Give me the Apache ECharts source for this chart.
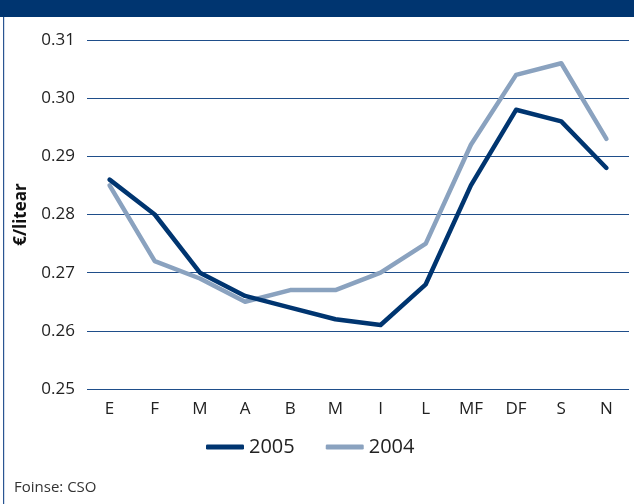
<!DOCTYPE html>
<html><head><meta charset="utf-8">
<script src="https://cdn.jsdelivr.net/npm/echarts@6/dist/echarts.min.js"></script>
<style>html,body{margin:0;padding:0;background:#fff}#c{width:634px;height:504px}</style>
</head><body><div id="c"></div>
<script>
const categories = ['E','F','M','A','B','M','I','L','MF','DF','S','N'];
const series2005 = [0.286,0.280,0.270,0.266,0.264,0.262,0.261,0.268,0.285,0.298,0.296,0.288];
const series2004 = [0.285,0.272,0.269,0.265,0.267,0.267,0.270,0.275,0.292,0.304,0.306,0.293];
const yTicks = [0.25,0.26,0.27,0.28,0.29,0.30,0.31];

const chart = echarts.init(document.getElementById('c'), null, {renderer:'canvas'});
const font = 'Open Sans';
chart.setOption({
  animation:false,
  textStyle:{fontFamily:font},
  graphic:[
    {type:'rect', shape:{x:0,y:0,width:634,height:17}, style:{fill:'#003570'}},
    {type:'rect', shape:{x:3,y:17,width:1.2,height:487}, style:{fill:'#2a5592'}},
    {type:'text', left:14, top:480, style:{text:'Foinse: CSO', font:'15px "Open Sans"', fill:'#333'}}
  ],
  grid:{left:87, right:5, top:40, bottom:115},
  legend:{
    data:['2005','2004'], top:432, left:201, itemWidth:38, itemHeight:5, itemGap:31,
    icon:'roundRect',
    textStyle:{fontSize:20, color:'#222', fontFamily:font}
  },
  xAxis:{
    type:'category', data:categories, boundaryGap:true,
    axisLine:{show:false}, axisTick:{show:false},
    axisLabel:{fontSize:17, color:'#222', margin:12, fontFamily:font}
  },
  yAxis:{
    type:'value', min:0.25, max:0.31, interval:0.01,
    name:'€/litear', nameLocation:'middle', nameGap:57,
    nameTextStyle:{fontSize:17, fontWeight:'bold', color:'#111', fontFamily:font},
    axisLine:{show:false}, axisTick:{show:false},
    axisLabel:{fontSize:17, color:'#222', margin:12, fontFamily:font, formatter:v=>v.toFixed(2)},
    splitLine:{lineStyle:{color:'#1f4e8a', width:1.2}}
  },
  series:[
    {name:'2005', type:'line', data:series2005, symbol:'none', lineStyle:{width:4.5, color:'#003570', cap:'round', join:'round'}, itemStyle:{color:'#003570'}, z:3},
    {name:'2004', type:'line', data:series2004, symbol:'none', lineStyle:{width:4.5, color:'#8aa2bf', cap:'round', join:'round'}, itemStyle:{color:'#8aa2bf'}, z:2}
  ]
});
</script></body></html>
